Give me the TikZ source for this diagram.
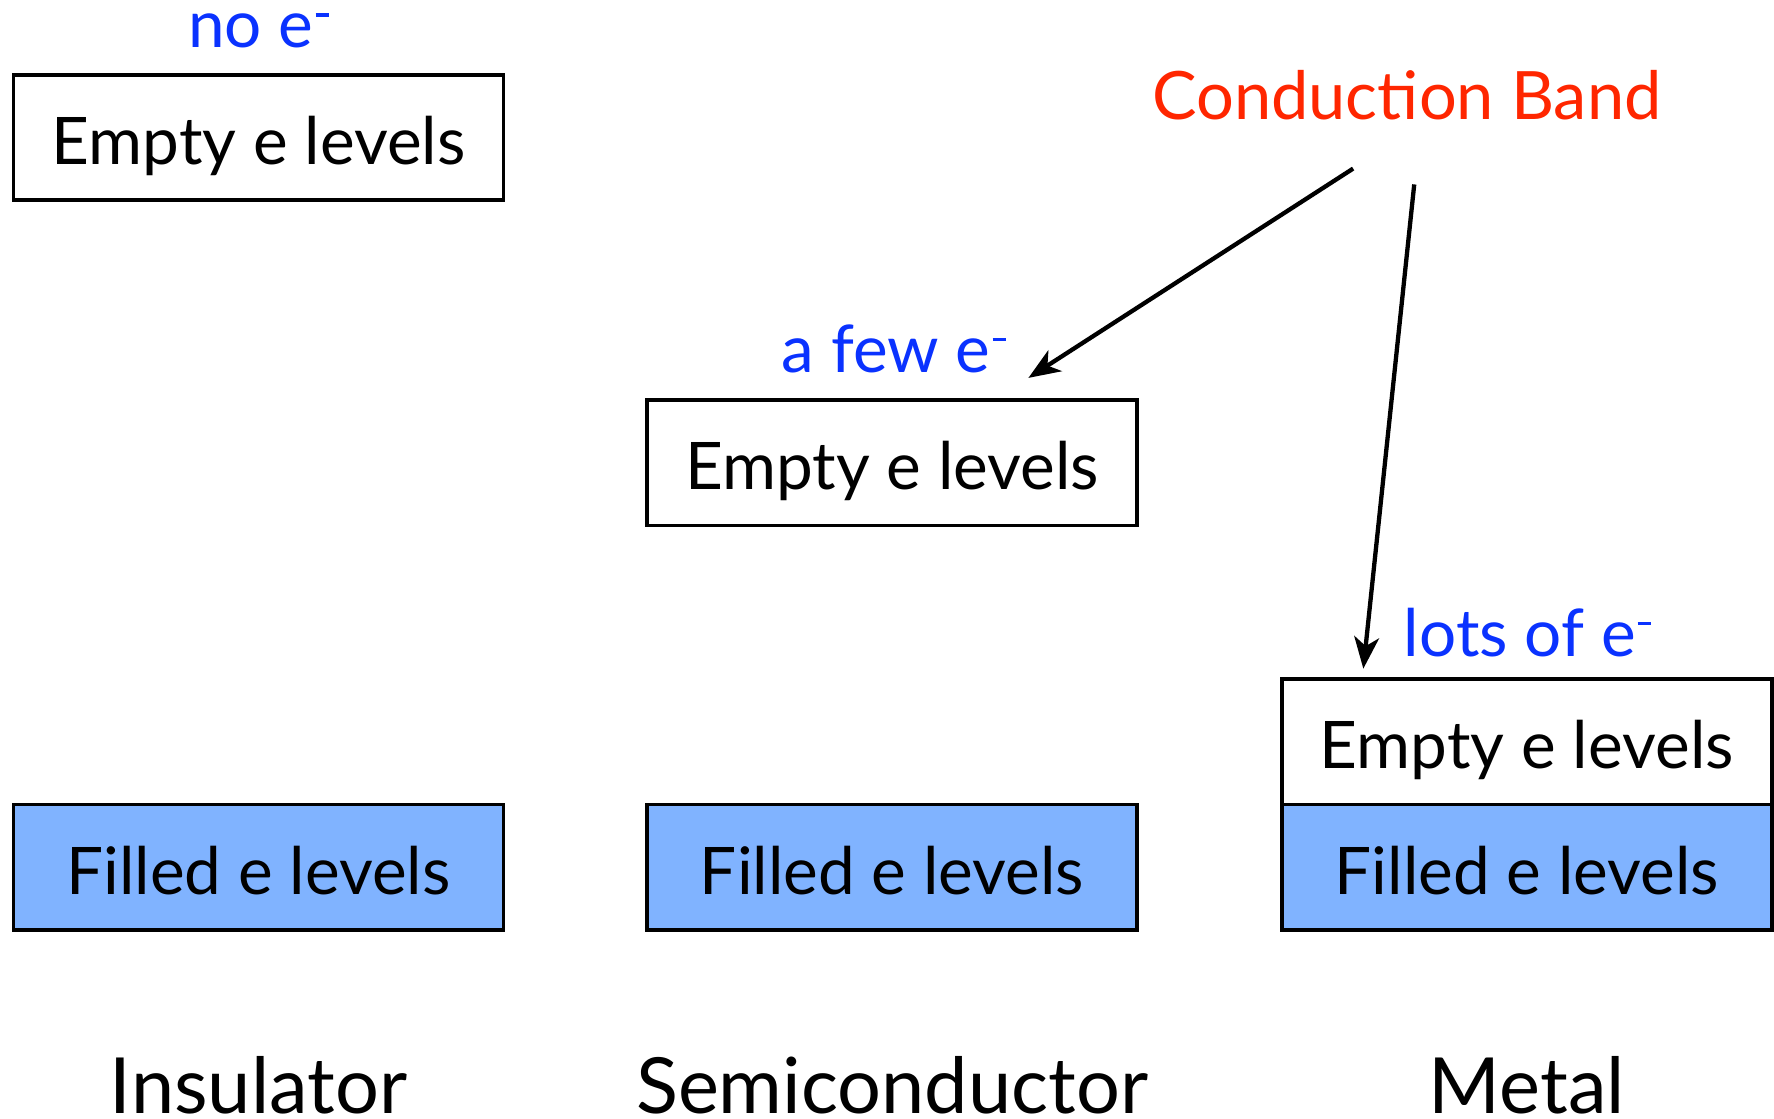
\documentclass[tikz,border=0pt]{standalone}
\usepackage{fontspec}
\setmainfont{Lato}
\usetikzlibrary{arrows.meta}
\definecolor{fillblue}{RGB}{128,179,255}
\definecolor{txtblue}{RGB}{10,50,255}
\definecolor{txtred}{RGB}{255,38,0}
\newcommand{\elminus}{\kern0.03em\rule[0.47em]{0.2em}{0.055em}}
\begin{document}
\begin{tikzpicture}[x=1pt,y=-1pt,
  band/.style={draw=black,line width=3.3pt,minimum width=433pt,minimum height=111pt,inner sep=0pt,
    text height=47.5pt,text depth=0pt,font=\fontsize{58}{60}\selectfont},
  filled/.style={band,fill=fillblue},
  empty/.style={band,fill=white},
  bluelbl/.style={text=txtblue,anchor=base,inner sep=0pt,font=\fontsize{58}{60}\selectfont},
  kind/.style={anchor=base,inner sep=0pt,font=\fontsize{68.5}{72}\selectfont},
  arr/.style={line width=3.8pt,-{Stealth[length=28pt,width=22pt,inset=8pt]}}]
\useasboundingbox (0,0) rectangle (1568,988.2);
% Insulator
\node[empty] (ie) at (228.5,121.5) {Empty e levels};
\node[filled] (if) at (228.5,766.5) {Filled e levels};
\node[bluelbl] (ino) at (228.5,42) {no e\elminus};
\node[kind] (ins) at (228.5,984) {Insulator};
% Semiconductor
\node[empty] (se) at (788.5,409) {Empty e levels};
\node[filled] (sf) at (788.5,766.5) {Filled e levels};
\node[bluelbl] (sfew) at (790,329) {a few e\elminus};
\node[kind] (sem) at (788.5,984) {Semiconductor};
% Metal
\node[empty] (me) at (1349.5,655.5) {Empty e levels};
\node[filled] (mf) at (1349.5,766.5) {Filled e levels};
\node[bluelbl] (mlots) at (1350,580) {lots of e\elminus};
\node[kind] (met) at (1349.5,984) {Metal};
% Conduction band
\node[text=txtred,anchor=base,inner sep=0pt,font=\fontsize{59}{61}\selectfont] (cb) at (1243.5,106) {Conduction Band};
\coordinate (a1s) at (1196,149);
\coordinate (a1e) at (909,334);
\coordinate (a2s) at (1250,163);
\coordinate (a2e) at (1205,591);
\draw[arr] (a1s) -- (a1e);
\draw[arr] (a2s) -- (a2e);
\end{tikzpicture}
\end{document}
